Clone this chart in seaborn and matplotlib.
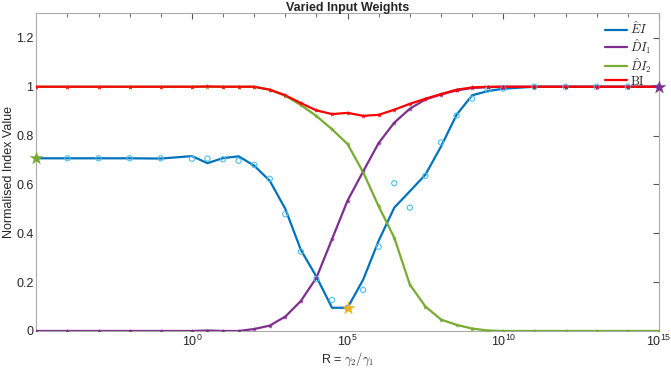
"""Varied input weights: normalised index values against gamma ratio."""

import matplotlib

matplotlib.use("Agg")
import matplotlib.pyplot as plt
import matplotlib.ticker as mticker
import numpy as np
import pandas as pd
import seaborn as sns
from matplotlib.lines import Line2D

# log10(R) sample positions
log_r = [-5, -4, -3, -2, -1, 0, 0.5, 1, 1.5, 2, 2.5, 3, 3.5, 4, 4.5, 5, 5.5,
         6, 6.5, 7, 7.5, 8, 8.5, 9, 9.5, 10, 11, 12, 13, 14, 15]

ei_line = [0.707, 0.707, 0.707, 0.707, 0.706, 0.716, 0.687, 0.708, 0.715, 0.677,
           0.615, 0.50, 0.332, 0.222, 0.095, 0.095, 0.21, 0.37, 0.505, 0.572,
           0.64, 0.755, 0.885, 0.965, 0.982, 0.992, 1.0, 1.0, 1.0, 1.0, 1.0]
ei_points = [0.707, 0.707, 0.707, 0.707, 0.707, 0.705, 0.706, 0.703, 0.697, 0.68,
             0.623, 0.478, 0.325, 0.213, 0.127, 0.095, 0.168, 0.345, 0.605, 0.505,
             0.635, 0.772, 0.882, 0.951, 0.988, 0.992, 1.0, 1.0, 1.0, 1.0, 1.0]
di1 = [0.0, 0.0, 0.0, 0.0, 0.0, 0.0, 0.002, 0.0, 0.0, 0.008,
       0.022, 0.059, 0.123, 0.218, 0.376, 0.534, 0.653, 0.77, 0.853, 0.91,
       0.948, 0.968, 0.985, 0.995, 0.998, 1.0, 1.0, 1.0, 1.0, 1.0, 1.0]
di2 = [1.0, 1.0, 1.0, 1.0, 1.0, 1.0, 1.0, 1.0, 1.0, 1.0,
       0.988, 0.963, 0.925, 0.88, 0.826, 0.765, 0.65, 0.51, 0.382, 0.19,
       0.10, 0.047, 0.025, 0.01, 0.002, 0.0, 0.0, 0.0, 0.0, 0.0, 0.0]
bi = [1.0, 1.0, 1.0, 1.0, 1.0, 1.0, 1.001, 1.0, 1.0, 1.0,
      0.988, 0.965, 0.933, 0.903, 0.888, 0.893, 0.881, 0.885, 0.906, 0.93,
      0.951, 0.97, 0.988, 0.997, 1.0, 1.0, 1.0, 1.0, 1.0, 1.0, 1.0]

series_names = ["EI", "DI1", "DI2", "BI"]
series_labels = [r"$\hat{E}I$", r"$\hat{D}I_1$", r"$\hat{D}I_2$", r"$\mathrm{BI}$"]
series_colors = ["#0072BD", "#7E2F8E", "#77AC30", "#FF0000"]

# highlighted points: (log R, value, colour)
star_log_r = [-5, 5, 15]
star_values = [0.707, 0.095, 1.0]
star_colors = ["#77AC30", "#EDB120", "#7E2F8E"]


def main():
    sns.set_style("white")
    plt.rcParams["font.family"] = ["Liberation Sans", "DejaVu Sans"]
    plt.rcParams["mathtext.fontset"] = "cm"

    r = 10.0 ** np.array(log_r)
    lines = pd.DataFrame({
        "R": np.tile(r, 4),
        "value": ei_line + di1 + di2 + bi,
        "series": np.repeat(series_names, len(r)),
    })

    fig = plt.figure(figsize=(6.71, 3.74), dpi=100)
    ax = fig.add_axes([0.054, 0.115, 0.928, 0.849])

    palette = dict(zip(series_names, series_colors))
    sns.lineplot(data=lines, x="R", y="value", hue="series", palette=palette,
                 hue_order=series_names, linewidth=1.6, legend=False, ax=ax,
                 zorder=3)
    sns.scatterplot(x=r, y=ei_points, marker="o", s=14, facecolor="none",
                    edgecolor="#4DBEEE", linewidth=0.8, ax=ax, zorder=4)
    for name, vals in zip(series_names[1:], [di1, di2, bi]):
        sns.scatterplot(x=r, y=vals, marker="*", s=14, color=palette[name],
                        linewidth=0, ax=ax, zorder=5)
    for lr, v, c in zip(star_log_r, star_values, star_colors):
        ax.scatter(10.0 ** lr, v, marker="*", s=110, color=c, zorder=6,
                   clip_on=False, linewidth=0)

    ax.set_xscale("log")
    ax.set_xlim(1e-5, 1e15)
    ax.set_ylim(0, 1.3)
    ax.xaxis.set_major_locator(mticker.FixedLocator([1e0, 1e5, 1e10, 1e15]))
    ax.xaxis.set_major_formatter(mticker.LogFormatterSciNotation())
    ax.xaxis.set_minor_locator(mticker.FixedLocator(10.0 ** np.arange(-5, 16)))
    ax.xaxis.set_minor_formatter(mticker.NullFormatter())
    ax.set_yticks([0, 0.2, 0.4, 0.6, 0.8, 1.0, 1.2])
    ax.set_yticklabels(["0", "0.2", "0.4", "0.6", "0.8", "1", "1.2"])
    ax.tick_params(which="both", direction="in", top=True, right=True,
                   color="#555555", labelsize=9, labelcolor="#262626")
    ax.tick_params(which="major", length=4, pad=2)
    ax.tick_params(which="minor", length=3)
    for spine in ax.spines.values():
        spine.set_color("#AAAAAA")
        spine.set_linewidth(0.8)

    ax.set_title("Varied Input Weights", fontsize=9, fontweight="bold", pad=2)
    ax.set_xlabel(r"R = $\gamma_2/\gamma_1$", fontsize=9, labelpad=1)
    ax.set_ylabel("Normalised Index Value", fontsize=9, labelpad=1)

    handles = [Line2D([0], [0], color=c, lw=1.6) for c in series_colors]
    ax.legend(handles, series_labels, loc="upper right", frameon=False,
              fontsize=9, handlelength=1.7, handletextpad=0.3,
              labelspacing=0.0, borderaxespad=0.0, borderpad=0.2,
              bbox_to_anchor=(0.993, 0.986))

    fig.savefig("out.png", dpi=100)
    plt.close(fig)


if __name__ == "__main__":
    main()
